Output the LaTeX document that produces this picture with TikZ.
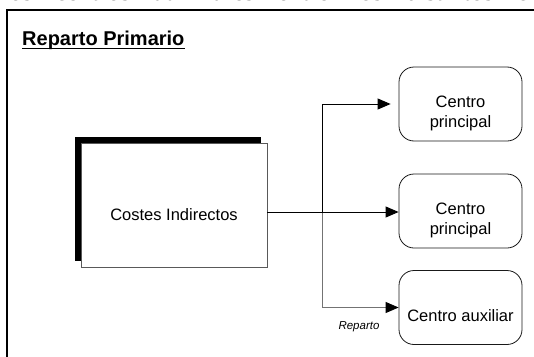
\documentclass[tikz,border=0pt]{standalone}
\usepackage{fontspec}
\setmainfont{Liberation Sans}
\newfontfamily\timesfont{Liberation Serif}
\usetikzlibrary{arrows.meta,shadows,calc}

\begin{document}
\begin{tikzpicture}[x=1pt,y=-1pt,
  frameline/.style={line width=2.3pt},
  costbox/.style={draw=black!65, line width=0.8pt, fill=white,
    minimum width=186pt, minimum height=124pt, inner sep=0pt,
    drop shadow={shadow xshift=-6pt, shadow yshift=6pt, fill=black, opacity=1}},
  centro/.style={draw=black!90, line width=0.8pt, fill=white, rounded corners=15pt,
    minimum width=123pt, minimum height=74pt, inner sep=0pt},
  boxtext/.style={font=\fontsize{16.5}{20}\selectfont, align=center},
  conn/.style={line width=0.9pt, draw=black, -{Triangle[length=13pt,width=11pt,color=black]}},
  conngray/.style={conn, draw=black!55}
]
\useasboundingbox (0,0) rectangle (534,356);
\begin{scope}
\clip (0,0) rectangle (534,356);

% running text line above the figure (only its lower edge shows)
\node (running) [anchor=base west, inner sep=0pt, font=\timesfont\fontsize{26}{30}\selectfont]
  at (2,0.5) {\makebox[526pt][s]{los centros auxiliares entre los distintos c}};

% frame around the figure
\draw[frameline] (7,400) -- (7,10) -- (600,10);
\end{scope}

% heading
\node (title) [anchor=base west, inner sep=0pt, font=\bfseries\fontsize{20}{24}\selectfont]
  at (22,45) {Reparto Primario};
\draw[line width=1.6pt] ($(title.base west)+(0,3.5)$) -- ($(title.base east)+(0,3.5)$);

% source of the indirect costs
\node (costes) [costbox] at (174,205) {};
\node (costestext) [boxtext] at (174,215) {Costes Indirectos};

% receiving centres
\node (p1) [centro] at (460.5,104) {};
\node (p1text) [boxtext] at (460.5,113) {Centro\\principal};
\node (p2) [centro] at (460.5,211) {};
\node (p2text) [boxtext] at (460.5,220) {Centro\\principal};
\node (aux) [centro] at (460.5,307.5) {};
\node (auxtext) [boxtext] at (460.5,316) {Centro auxiliar};

% distribution lines
\coordinate (split) at (322,212);
\coordinate (out) at ($(costes.east)+(0,7)$);
\draw[conngray] (split) |- (aux.west);
\draw[conn] (out) -- (out -| p2.west);
\draw[conn] (split) |- ($(p1.west)+(-8,0)$);

\node (reparto) [font=\itshape\fontsize{11.5}{13}\selectfont] at (359,327) {Reparto};
\end{tikzpicture}
\end{document}
